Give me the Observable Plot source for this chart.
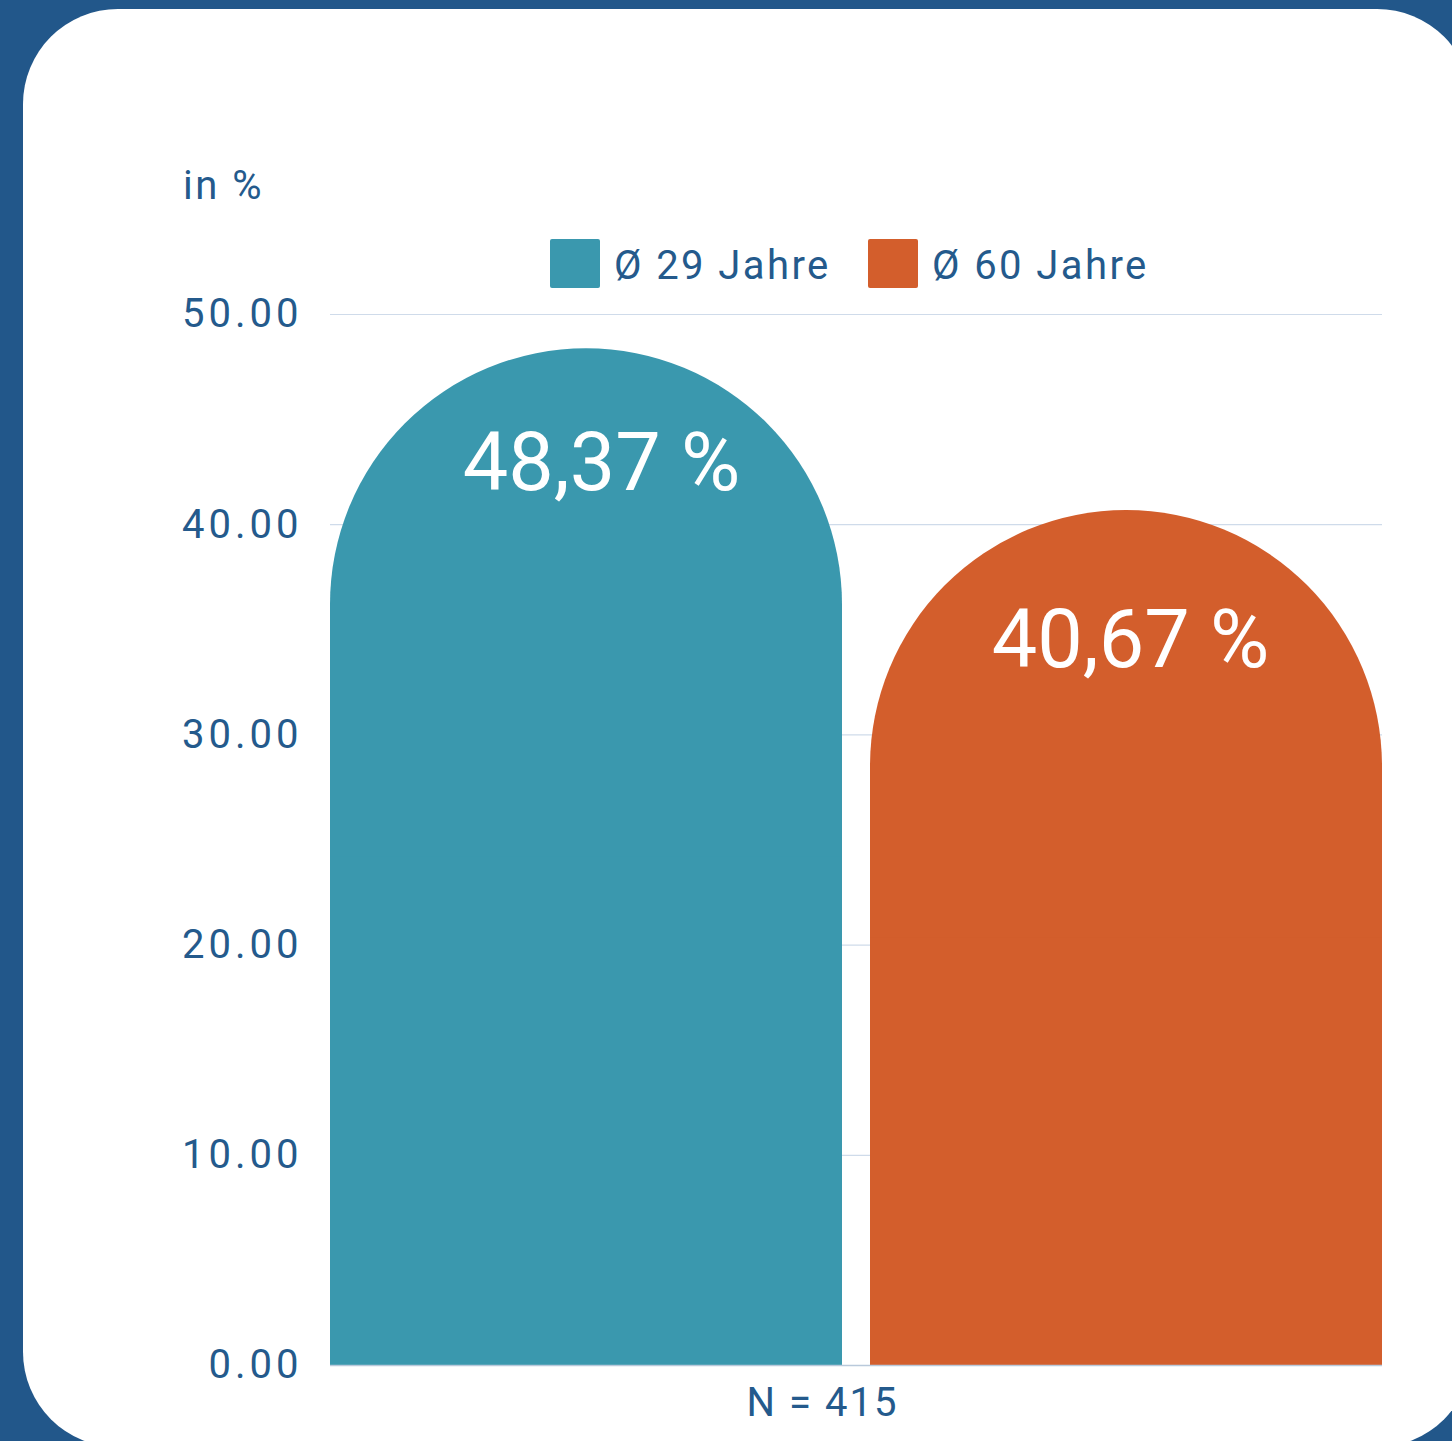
<!DOCTYPE html>
<html><head><meta charset="utf-8">
<script src="https://cdn.jsdelivr.net/npm/d3@7"></script>
<script src="https://cdn.jsdelivr.net/npm/@observablehq/plot@0.6"></script>
<style>
html,body{margin:0;padding:0;background:#22578a;width:1452px;height:1441px;overflow:hidden;font-family:Roboto,sans-serif;position:relative;}
#card{position:absolute;left:23px;top:9px;width:1449px;height:1438px;background:#fff;border-radius:95px;}
.t{position:absolute;color:#245a8c;font-size:40px;letter-spacing:2px;white-space:nowrap;line-height:40px;}
.sw{position:absolute;width:50px;height:49px;border-radius:2px;}
#chart{position:absolute;left:0;top:290px;}
#chart svg [aria-label="y-axis tick label"] text{letter-spacing:4px;}
#chart svg [aria-label="fx-axis tick label"] text{letter-spacing:2px;}
</style>
</head><body>
<div id="card"></div>
<div class="t" id="unit" style="left:183px;top:166px;letter-spacing:2.5px;">in %</div>
<div id="legend"></div>
<div id="chart"></div>
<script>
const series = ["Ø 29 Jahre", "Ø 60 Jahre"];
const values = [48.37, 40.67];
const valueLabels = ["48,37 %", "40,67 %"];
const colors = ["#3a98ae", "#d35e2c"];
const groupLabel = "N = 415";
const yTicks = [0, 10, 20, 30, 40, 50];

const data = series.map((s, i) => ({group: groupLabel, series: s, value: values[i], label: valueLabels[i]}));

// legend (HTML, above the chart)
const legend = document.getElementById("legend");
const legendX = [550, 868];
series.forEach((s, i) => {
  const sw = document.createElement("div");
  sw.className = "sw";
  sw.style.left = legendX[i] + "px";
  sw.style.top = "239px";
  sw.style.background = colors[i];
  legend.appendChild(sw);
  const t = document.createElement("div");
  t.className = "t";
  t.style.left = (legendX[i] + 64) + "px";
  t.style.top = "246px";
  t.style.letterSpacing = "2.4px";
  t.textContent = s;
  legend.appendChild(t);
});

const R = 256;
const plot = Plot.plot({
  width: 1452,
  height: 1151,
  marginLeft: 330,
  marginRight: 70,
  marginTop: 24,
  marginBottom: 76,
  style: {fontFamily: "Roboto, sans-serif", fontSize: "40px", color: "#245a8c", background: "transparent", overflow: "visible"},
  fx: {domain: [groupLabel], padding: 0, label: null, axis: null},
  x: {domain: series, paddingInner: 0.052, paddingOuter: 0, axis: null},
  y: {domain: [0, 50], ticks: yTicks, tickFormat: d3.format(".2f"), label: null, tickSize: 0, tickPadding: 28},
  color: {domain: series, range: colors},
  marks: [
    Plot.ruleY(yTicks.filter(d => d > 0), {stroke: "#cfdbea", strokeWidth: 1.2}),
    Plot.barY(data, {fx: "group", x: "series", y: "value", fill: "series", rx: R, ry: R}),
    Plot.barY(data, {fx: "group", x: "series", y: d => d.value / 2, fill: "series"}),
    Plot.ruleY([0], {stroke: "#b9c9db", strokeWidth: 1.5}),
    Plot.axisFx({anchor: "bottom", tickSize: 0, tickPadding: 22, dx: -34, label: null}),
    Plot.text(data.slice(0, 1), {fx: "group", x: "series", y: "value", text: "label", fill: "white", fontSize: 81, dy: 115, dx: 15}),
    Plot.text(data.slice(1, 2), {fx: "group", x: "series", y: "value", text: "label", fill: "white", fontSize: 81, dy: 130, dx: 4})
  ]
});
document.getElementById("chart").appendChild(plot);
</script>
</body></html>
